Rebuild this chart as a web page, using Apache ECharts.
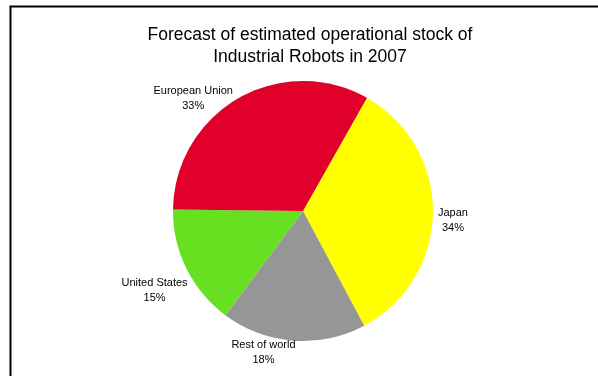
<!DOCTYPE html>
<html>
<head>
<meta charset="utf-8">
<script src="https://cdn.jsdelivr.net/npm/echarts@6/dist/echarts.min.js"></script>
<style>
  html, body { margin: 0; padding: 0; background: #fff; }
  #chart { width: 598px; height: 376px; }
</style>
</head>
<body>
<div id="chart"></div>
<script>
// regions and share of operational stock (%)
var regions = ['Japan', 'Rest of world', 'United States', 'European Union'];
var shares = [34, 18, 15, 33];
var colors = ['#FFFF00', '#969696', '#66E021', '#E0002A'];
// label placement tweaks per slice (labels outside, lines hidden)
var lineLen = [15, 10, 30, 0];
var lineLen2 = [0, 24, 0, 40];
var labelDy = [8, 2, 9, 0];

var myChart = echarts.init(document.getElementById('chart'));

var pieData = regions.map(function (name, i) {
  return {
    name: name,
    value: shares[i],
    itemStyle: { color: colors[i] },
    labelLine: { length: lineLen[i], length2: lineLen2[i] }
  };
});

var option = {
  backgroundColor: '#fff',
  animation: false,
  title: {
    text: 'Forecast of estimated operational stock of\nIndustrial Robots in 2007',
    left: 305,
    top: 19,
    textAlign: 'center',
    textStyle: {
      fontFamily: 'Liberation Sans',
      fontWeight: 'normal',
      fontSize: 17.5,
      lineHeight: 22,
      color: '#000'
    }
  },
  graphic: [{
    type: 'rect',
    shape: { x: 10.5, y: 6.5, width: 620, height: 400 },
    style: { fill: null, stroke: '#000', lineWidth: 2 },
    silent: true
  }],
  series: [{
    type: 'pie',
    center: [303, 211],
    radius: 130,
    startAngle: 60.5,
    clockwise: true,
    avoidLabelOverlap: false,
    data: pieData,
    itemStyle: { borderWidth: 0 },
    label: {
      show: true,
      position: 'outside',
      formatter: '{b}\n{d}%',
      fontFamily: 'Liberation Sans',
      fontSize: 11,
      lineHeight: 15,
      color: '#000'
    },
    labelLayout: function (params) {
      return { align: 'center', verticalAlign: 'middle', dy: labelDy[params.dataIndex] };
    },
    labelLine: { show: false },
    emphasis: { disabled: true }
  }]
};

myChart.setOption(option, true);
</script>
</body>
</html>
